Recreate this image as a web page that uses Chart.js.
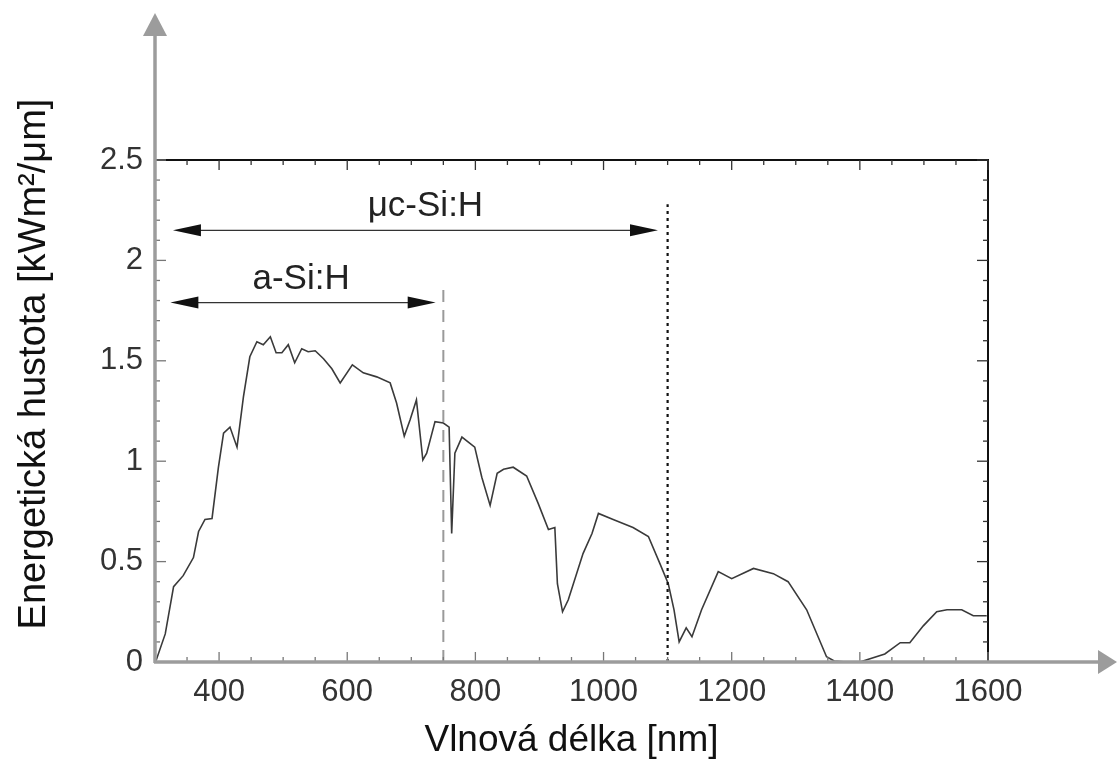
<!DOCTYPE html>
<html><head><meta charset="utf-8">
<script src="https://cdn.jsdelivr.net/npm/chart.js@4.4.1/dist/chart.umd.min.js"></script>
<style>html,body{margin:0;padding:0;background:#fff;}</style>
</head><body>
<canvas id="c" width="1117" height="779"></canvas>
<script>
// ---- data ----
const wavelengths = [300,302,316,329,344,360,368,378,389,399,407,417,428,438,448,459,469,480,489,498,508,518,529,539,550,563,576,589,608,625,646,667,677,689,698,708,718,724,737,750,759,763,768,779,799,810,823,834,844,859,880,898,914,924,928,936,945,968,982,992,1015,1046,1070,1088,1101,1110,1118,1129,1138,1153,1179,1200,1234,1265,1288,1317,1348,1360,1379,1400,1439,1463,1478,1499,1520,1536,1559,1577,1598];
const irradiance = [0.0,0.01,0.14,0.375,0.43,0.52,0.65,0.71,0.715,0.97,1.14,1.17,1.07,1.32,1.52,1.595,1.58,1.62,1.54,1.54,1.58,1.49,1.56,1.545,1.55,1.51,1.46,1.39,1.48,1.44,1.42,1.39,1.29,1.125,1.205,1.305,1.006,1.04,1.197,1.19,1.17,0.64,1.04,1.12,1.07,0.92,0.78,0.94,0.96,0.97,0.926,0.79,0.66,0.67,0.39,0.25,0.31,0.54,0.64,0.74,0.71,0.67,0.625,0.49,0.39,0.26,0.10,0.17,0.126,0.26,0.45,0.415,0.466,0.44,0.40,0.26,0.026,0.005,0.0,0.0,0.04,0.096,0.096,0.18,0.25,0.26,0.26,0.23,0.23];
const xTickValues = [400,600,800,1000,1200,1400,1600];
const yTickValues = [0,0.5,1,1.5,2,2.5];
const bandNames = ['a-Si:H','μc-Si:H'];
const bandStart = [324,328];
const bandEnd = [738,1085];
const bandLevel = [1.79,2.15];
const bandLabelX = [528,722];
const bandLabelY = [1.86,2.22];
const cutoffWavelength = [750,1100];
const cutoffTop = [1.86,2.28];
const xTitle = 'Vlnová délka [nm]';
const yTitle = 'Energetická hustota [kWm²/μm]';

const FONT = '"Liberation Sans", Arial, Helvetica, sans-serif';

const decor = {
  id: 'decor',
  afterDatasetsDraw(chart) {
    const ctx = chart.ctx, xs = chart.scales.x, ys = chart.scales.y;
    const a = chart.chartArea;
    ctx.save();
    // cutoff lines
    for (let i = 0; i < cutoffWavelength.length; i++) {
      const px = xs.getPixelForValue(cutoffWavelength[i]);
      ctx.beginPath();
      if (i === 0) { ctx.strokeStyle = '#9a9a9a'; ctx.lineWidth = 2; ctx.setLineDash([12, 8]); }
      else { ctx.strokeStyle = '#111'; ctx.lineWidth = 2.2; ctx.setLineDash([3, 4]); }
      ctx.moveTo(px, a.bottom);
      ctx.lineTo(px, ys.getPixelForValue(cutoffTop[i]));
      ctx.stroke();
    }
    ctx.setLineDash([]);
    // band arrows
    for (let i = 0; i < bandNames.length; i++) {
      const x1 = xs.getPixelForValue(bandStart[i]);
      const x2 = xs.getPixelForValue(bandEnd[i]);
      const py = ys.getPixelForValue(bandLevel[i]);
      ctx.strokeStyle = '#333'; ctx.lineWidth = 1.2;
      ctx.beginPath(); ctx.moveTo(x1 + 20, py); ctx.lineTo(x2 - 20, py); ctx.stroke();
      ctx.fillStyle = '#111';
      ctx.beginPath(); ctx.moveTo(x1, py); ctx.lineTo(x1 + 28, py - 6); ctx.lineTo(x1 + 28, py + 6); ctx.closePath(); ctx.fill();
      ctx.beginPath(); ctx.moveTo(x2, py); ctx.lineTo(x2 - 28, py - 6); ctx.lineTo(x2 - 28, py + 6); ctx.closePath(); ctx.fill();
      ctx.fillStyle = '#222';
      ctx.font = '35px ' + FONT;
      ctx.textAlign = 'center'; ctx.textBaseline = 'alphabetic';
      ctx.fillText(bandNames[i], xs.getPixelForValue(bandLabelX[i]), ys.getPixelForValue(bandLabelY[i]));
    }
    // frame: top and right black
    ctx.strokeStyle = '#111'; ctx.lineWidth = 2;
    ctx.beginPath(); ctx.moveTo(a.left, a.top); ctx.lineTo(a.right, a.top); ctx.lineTo(a.right, a.bottom); ctx.stroke();
    // inward ticks
    ctx.lineWidth = 1.3;
    for (let v = 300; v <= 1600; v += 50) {
      const px = xs.getPixelForValue(v);
      const len = (v % 200 === 0) ? 10 : 5;
      ctx.strokeStyle = '#333';
      ctx.beginPath(); ctx.moveTo(px, a.top); ctx.lineTo(px, a.top + len); ctx.stroke();
      ctx.strokeStyle = '#777';
      ctx.beginPath(); ctx.moveTo(px, a.bottom); ctx.lineTo(px, a.bottom - len); ctx.stroke();
    }
    for (let k = 0; k <= 25; k++) {
      const v = k / 10;
      const py = ys.getPixelForValue(v);
      const len = (k % 5 === 0) ? 11 : 5;
      ctx.strokeStyle = '#777';
      ctx.beginPath(); ctx.moveTo(a.left, py); ctx.lineTo(a.left + len, py); ctx.stroke();
      ctx.strokeStyle = '#333';
      ctx.beginPath(); ctx.moveTo(a.right, py); ctx.lineTo(a.right - len, py); ctx.stroke();
    }
    // gray outer axes with arrowheads
    ctx.strokeStyle = '#9c9c9c'; ctx.fillStyle = '#9c9c9c'; ctx.lineWidth = 3.5;
    ctx.beginPath(); ctx.moveTo(a.left, a.bottom + 1); ctx.lineTo(a.left, 34); ctx.stroke();
    ctx.beginPath(); ctx.moveTo(a.left, 13); ctx.lineTo(a.left - 12, 36); ctx.lineTo(a.left + 12, 36); ctx.closePath(); ctx.fill();
    ctx.beginPath(); ctx.moveTo(a.left - 1, a.bottom); ctx.lineTo(1100, a.bottom); ctx.stroke();
    ctx.beginPath(); ctx.moveTo(1117, a.bottom); ctx.lineTo(1098, a.bottom - 12); ctx.lineTo(1098, a.bottom + 12); ctx.closePath(); ctx.fill();
    // y title
    ctx.save();
    ctx.translate(35, 364);
    ctx.rotate(-Math.PI / 2);
    ctx.fillStyle = '#111';
    ctx.font = '38px ' + FONT;
    ctx.textAlign = 'center'; ctx.textBaseline = 'middle';
    ctx.fillText(yTitle, 0, 0);
    ctx.restore();
    ctx.restore();
  }
};

new Chart(document.getElementById('c'), {
  type: 'line',
  data: {
    datasets: [{
      data: wavelengths.map((w, i) => ({ x: w, y: irradiance[i] })),
      borderColor: '#3a3a3a',
      borderWidth: 1.6,
      pointRadius: 0,
      tension: 0,
      fill: false
    }]
  },
  options: {
    responsive: false,
    animation: false,
    devicePixelRatio: 1,
    layout: { padding: { left: 0, right: 129, top: 160, bottom: 0 } },
    plugins: { legend: { display: false }, tooltip: { enabled: false } },
    scales: {
      x: {
        type: 'linear', min: 300, max: 1600,
        afterBuildTicks: s => { s.ticks = xTickValues.map(v => ({ value: v })); },
        afterFit: s => { s.height = 117; },
        grid: { display: false, drawTicks: false },
        border: { display: false },
        ticks: { color: '#333', font: { family: FONT, size: 31 }, padding: 12, callback: v => String(v), maxRotation: 0, autoSkip: false },
        title: { display: true, text: xTitle, color: '#111', font: { family: FONT, size: 37 }, padding: { top: 0, bottom: 16 } }
      },
      y: {
        min: 0, max: 2.5,
        afterBuildTicks: s => { s.ticks = yTickValues.map(v => ({ value: v })); },
        afterFit: s => { s.width = 155; },
        grid: { display: false, drawTicks: false },
        border: { display: false },
        ticks: { color: '#333', font: { family: FONT, size: 31 }, padding: 12, callback: v => String(v) }
      }
    }
  },
  plugins: [decor]
});
</script>
</body></html>
